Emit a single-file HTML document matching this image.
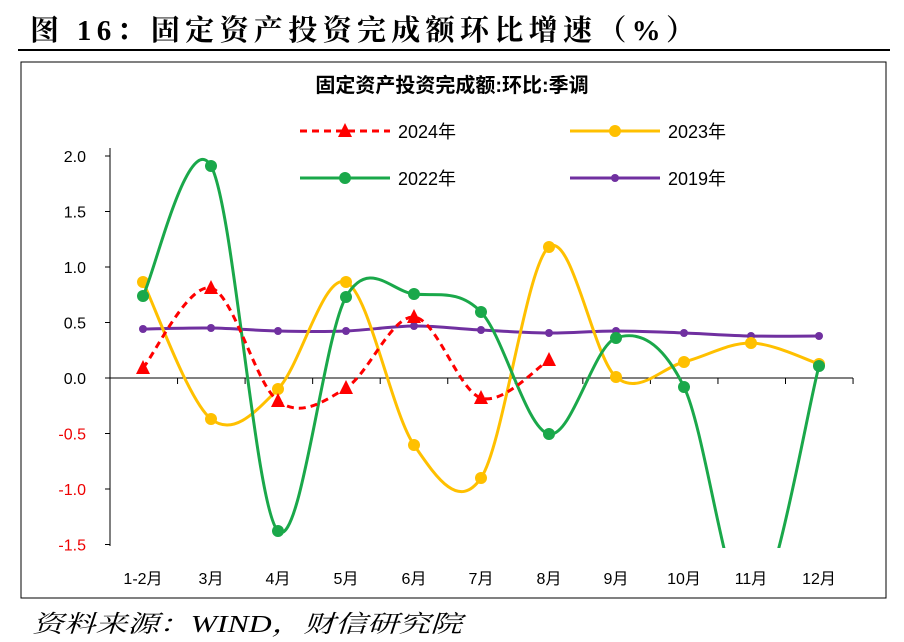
<!DOCTYPE html>
<html><head><meta charset="utf-8"><style>
html,body{margin:0;width:904px;height:642px;background:#fff;overflow:hidden;font-family:"Liberation Sans","Noto Sans CJK SC",sans-serif}
svg{display:block}
</style></head><body>
<svg id="s" width="904" height="642" xmlns="http://www.w3.org/2000/svg">
<text x="30" y="40" font-family="Liberation Serif,Noto Serif CJK SC,serif" font-weight="bold" font-size="29" fill="#000" textLength="665" lengthAdjust="spacing">图 16：固定资产投资完成额环比增速（%）</text>
<line x1="18" y1="50" x2="890" y2="50" stroke="#000" stroke-width="2"/>
<rect x="21" y="62" width="865" height="536" fill="none" stroke="#000" stroke-width="1"/>
<text x="452" y="92" text-anchor="middle" font-weight="bold" font-size="20" font-family="Liberation Sans,Noto Sans CJK SC,sans-serif">固定资产投资完成额:环比:季调</text>
<defs><clipPath id="c"><rect x="100" y="60" width="780" height="488"/></clipPath></defs>
<g id="axes" font-size="16" font-family="Liberation Sans,Noto Sans CJK SC,sans-serif"></g>
<g id="series" clip-path="url(#c)"></g>
<g id="legend" font-size="18" font-family="Liberation Sans,Noto Sans CJK SC,sans-serif"></g>
<text x="32" y="632" font-style="italic" font-size="24" font-family="Liberation Serif,Noto Serif CJK SC,serif" textLength="430" lengthAdjust="spacingAndGlyphs">资料来源：WIND，财信研究院</text>
</svg>
<script>
var NS="http://www.w3.org/2000/svg";
function el(p,t,a,txt){var e=document.createElementNS(NS,t);for(var k in a)e.setAttribute(k,a[k]);if(txt!=null)e.textContent=txt;document.getElementById(p).appendChild(e);return e;}
function Y(v){return 378-v*111;}
var xs=[143,211,278,346,414,481,549,616,684,751,819];
var labs=["1-2月","3月","4月","5月","6月","7月","8月","9月","10月","11月","12月"];
el("axes","line",{x1:110,y1:148,x2:110,y2:546,stroke:"#000"});
el("axes","line",{x1:110,y1:378,x2:853,y2:378,stroke:"#000"});
[2,1.5,1,0.5,0,-0.5,-1,-1.5].forEach(function(v){
 var y=Y(v);el("axes","line",{x1:105,y1:y,x2:110,y2:y,stroke:"#000"});
 el("axes","text",{x:86,y:y+6,"text-anchor":"end",fill:v<0?"#e00":"#000"},v.toFixed(1));});
for(var i=0;i<=11;i++){var x=110+i*67.55;el("axes","line",{x1:x,y1:378,x2:x,y2:384,stroke:"#000"});}
labs.forEach(function(l,i){el("axes","text",{x:xs[i],y:584,"text-anchor":"middle"},l);});
function path(pts){var d="M"+pts[0][0]+","+pts[0][1];
 for(var i=0;i<pts.length-1;i++){var p0=pts[i-1]||pts[i],p1=pts[i],p2=pts[i+1],p3=pts[i+2]||p2;
  var c1=[p1[0]+(p2[0]-p0[0])/6,p1[1]+(p2[1]-p0[1])/6],c2=[p2[0]-(p3[0]-p1[0])/6,p2[1]-(p3[1]-p1[1])/6];
  d+=" C"+c1+" "+c2+" "+p2;}return d;}
function ser(ys,col,dash,tri,skip){
 var pts=ys.map(function(y,i){return [xs[i],y];});
 var a={d:path(pts),fill:"none",stroke:col,"stroke-width":3};if(dash)a["stroke-dasharray"]="7,5";
 el("series","path",a);
 pts.forEach(function(p,i){if(skip&&skip.indexOf(i)>=0)return;
  if(tri)el("series","polygon",{points:(p[0]-7)+","+(p[1]+6)+" "+(p[0]+7)+","+(p[1]+6)+" "+p[0]+","+(p[1]-8),fill:col});
  else el("series","circle",{cx:p[0],cy:p[1],r:tri===0?4:6,fill:col});});}
ser([329,328,331,331,326,330,333,331,333,336,336],"#7030a0",false,0);
ser([282,419,389,282,445,478,247,377,362,343,364],"#ffc000");
ser([296,166,531,297,294,312,434,338,387,615,366],"#1aa84a",false,false,[9]);
ser([368,288,401,388,317,398,360],"#ff0000",true,true);
function leg(x,y,col,dash,mk,t){var a={x1:x,y1:y,x2:x+90,y2:y,stroke:col,"stroke-width":3};if(dash)a["stroke-dasharray"]="7,5";el("legend","line",a);
 if(mk=="t")el("legend","polygon",{points:(x+38)+","+(y+6)+" "+(x+52)+","+(y+6)+" "+(x+45)+","+(y-8),fill:col});
 else el("legend","circle",{cx:x+45,cy:y,r:mk=="s"?4:6,fill:col});
 el("legend","text",{x:x+98,y:y+7},t);}
leg(300,131,"#ff0000",true,"t","2024年");
leg(570,131,"#ffc000",false,"c","2023年");
leg(300,178,"#1aa84a",false,"c","2022年");
leg(570,178,"#7030a0",false,"s","2019年");
</script>
</body></html>
